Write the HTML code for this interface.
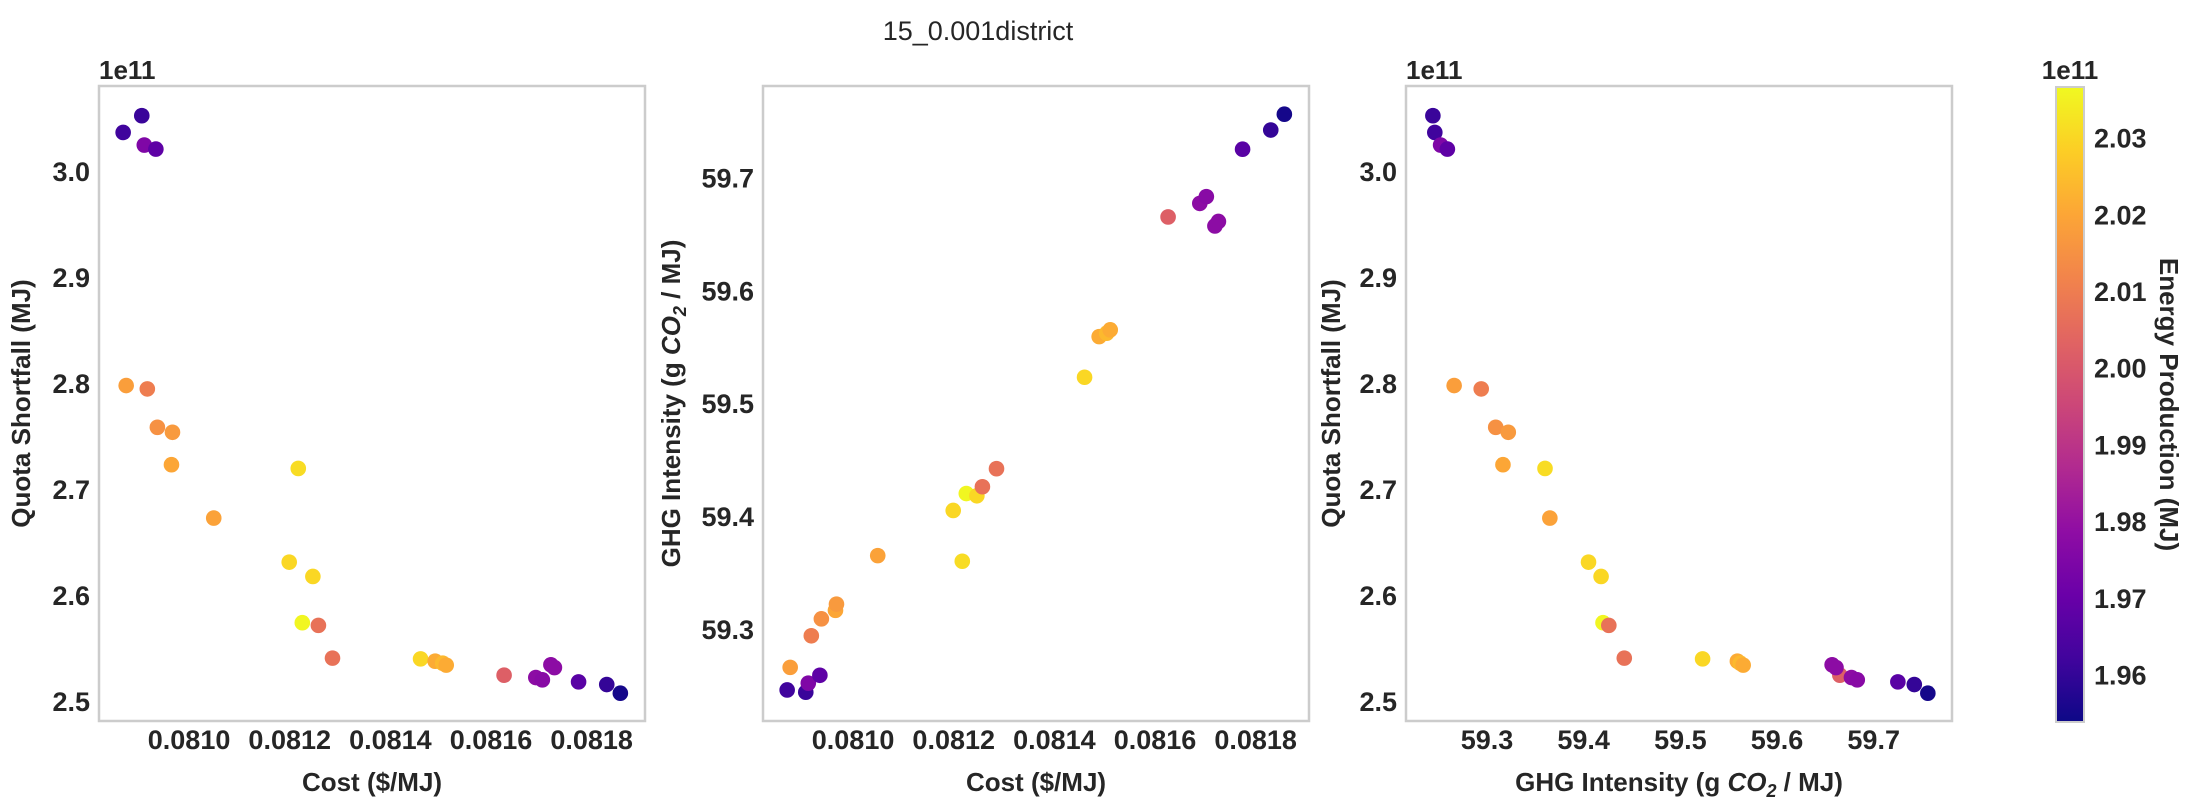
<!DOCTYPE html>
<html><head><meta charset="utf-8"><style>
html,body{margin:0;padding:0;background:#fff;}
svg{display:block;font-family:"Liberation Sans",sans-serif;}
.tk{font-size:27px;font-weight:bold;fill:#262626;}
.lab{font-size:26px;font-weight:bold;fill:#262626;}
</style></head><body>
<svg id="fig" width="2195" height="812" viewBox="0 0 2195 812">
<text x="978" y="40" text-anchor="middle" font-size="27" fill="#262626">15_0.001district</text>
</svg>
<script>
const cost=[0.080869,0.080875,0.080906,0.080911,0.080917,0.080934,0.080937,0.080965,0.080967,0.081049,0.081199,0.081217,0.081225,0.081246,0.081257,0.081285,0.081460,0.081489,0.081504,0.081511,0.081626,0.081689,0.081702,0.081719,0.081726,0.081774,0.081830,0.081857];
const ghg=[59.246,59.266,59.244,59.252,59.294,59.259,59.309,59.3165,59.322,59.365,59.405,59.360,59.420,59.418,59.426,59.442,59.523,59.559,59.562,59.565,59.665,59.677,59.683,59.657,59.661,59.725,59.742,59.756];
const quota=[3.0362,2.7975,3.0520,3.0243,2.7943,3.0205,2.7581,2.7228,2.7534,2.6725,2.6309,2.7193,2.5738,2.6174,2.5713,2.5404,2.5397,2.5375,2.5356,2.5338,2.5243,2.5221,2.5199,2.5341,2.5315,2.5180,2.5155,2.5073];
const energy=[1.962,2.018,1.961,1.975,2.010,1.968,2.015,2.020,2.017,2.019,2.030,2.031,2.036,2.030,2.007,2.007,2.030,2.021,2.024,2.021,2.002,1.978,1.977,1.978,1.978,1.967,1.960,1.955];
const costTicks=[0.0810,0.0812,0.0814,0.0816,0.0818];
const ghgTicks=[59.3,59.4,59.5,59.6,59.7];
const quotaTicks=[2.5,2.6,2.7,2.8,2.9,3.0];
const cbTicks=[1.96,1.97,1.98,1.99,2.00,2.01,2.02,2.03];

const NS="http://www.w3.org/2000/svg";
const svg=document.getElementById('fig');
const cmin=1.9538,cmax=2.0366;
const stops=["#0d0887","#41049d","#6a00a8","#8f0da4","#b12a90","#cc4778","#e16462","#f2844b","#fca636","#fcce25","#f0f921"];
function hx(h){return [parseInt(h.substr(1,2),16),parseInt(h.substr(3,2),16),parseInt(h.substr(5,2),16)];}
function plasma(t){t=Math.max(0,Math.min(1,t));const p=t*10,i=Math.min(9,Math.floor(p)),f=p-i;const a=hx(stops[i]),b=hx(stops[i+1]);return "rgb("+a.map((v,k)=>Math.round(v+(b[k]-v)*f)).join(",")+")";}
function mk(tag,attrs){const e=document.createElementNS(NS,tag);for(const k in attrs)e.setAttribute(k,attrs[k]);svg.appendChild(e);return e;}

const T=86,B=721;
const xCost=[0.080821,0.081906],xGhg=[59.2162,59.781],yQ=[2.4811,3.0800],yG=[59.2185,59.781];
const panels=[
 {L:99,xs:cost,ys:quota,xd:xCost,yd:yQ,xt:costTicks,yt:quotaTicks,xf:v=>v.toFixed(4),yf:v=>v.toFixed(1),xl:'Cost ($/MJ)',yl:'Quota Shortfall (MJ)',ylx:30,off:true,n:'cost-vs-quota'},
 {L:763,xs:cost,ys:ghg,xd:xCost,yd:yG,xt:costTicks,yt:ghgTicks,xf:v=>v.toFixed(4),yf:v=>v.toFixed(1),xl:'Cost ($/MJ)',yl:'GHG',ylx:680,off:false,n:'cost-vs-ghg'},
 {L:1406,xs:ghg,ys:quota,xd:xGhg,yd:yQ,xt:ghgTicks,yt:quotaTicks,xf:v=>v.toFixed(1),yf:v=>v.toFixed(1),xl:'GHG',yl:'Quota Shortfall (MJ)',ylx:1340,off:true,n:'ghg-vs-quota'}
];
const W=546;
function ghgLabel(el){el.innerHTML='GHG Intensity (g <tspan font-style="italic">CO</tspan><tspan font-style="italic" font-size="18" dy="6">2</tspan><tspan dy="-6"> / MJ)</tspan>';}
panels.forEach((p,pi)=>{
 const sx=v=>p.L+(v-p.xd[0])/(p.xd[1]-p.xd[0])*W;
 const sy=v=>B-(v-p.yd[0])/(p.yd[1]-p.yd[0])*(B-T);
 const fr=mk('rect',{x:p.L,y:T,width:W,height:B-T,fill:'none',stroke:'#cccccc','stroke-width':2.5});
 
 
 p.xt.forEach(v=>{const t=mk('text',{x:sx(v),y:749,'text-anchor':'middle',class:'tk'});t.textContent=p.xf(v);
  
  });
 p.yt.forEach(v=>{const t=mk('text',{x:p.L-9,y:sy(v)+10,'text-anchor':'end',class:'tk'});t.textContent=p.yf(v);
  
  });
 const xl=mk('text',{x:p.L+W/2,y:791,'text-anchor':'middle',class:'lab'});
 if(p.xl==='GHG')ghgLabel(xl);else xl.textContent=p.xl;
 
 
 const yl=mk('text',{x:0,y:0,'text-anchor':'middle',class:'lab',transform:'translate('+p.ylx+','+((T+B)/2)+') rotate(-90)'});
 if(p.yl==='GHG')ghgLabel(yl);else yl.textContent=p.yl;
 
 
 if(p.off){const o=mk('text',{x:p.L,y:79,class:'lab'});o.textContent='1e11';
  
  }
 p.xs.forEach((xv,i)=>{const c=mk('circle',{cx:sx(xv),cy:sy(p.ys[i]),r:7.8,fill:plasma((energy[i]-cmin)/(cmax-cmin))});
  
  });
});
// colorbar
const cbL=2056,cbW=28,cbT=87,cbB=722;
const defs=mk('defs',{});
const g=document.createElementNS(NS,'linearGradient');g.setAttribute('id','pl');g.setAttribute('x1','0');g.setAttribute('y1','1');g.setAttribute('x2','0');g.setAttribute('y2','0');
stops.forEach((s,i)=>{const st=document.createElementNS(NS,'stop');st.setAttribute('offset',i/10);st.setAttribute('stop-color',s);g.appendChild(st);});
defs.appendChild(g);
const cb=mk('rect',{x:cbL,y:cbT,width:cbW,height:cbB-cbT,fill:'url(#pl)',stroke:'#cccccc','stroke-width':2});


const cy=v=>cbB-(v-cmin)/(cmax-cmin)*(cbB-cbT);
cbTicks.forEach(v=>{const t=mk('text',{x:cbL+cbW+10,y:cy(v)+10,class:'tk'});t.textContent=v.toFixed(2);
 
 });
const co=mk('text',{x:cbL+14,y:79,'text-anchor':'middle',class:'lab'});co.textContent='1e11';


const cl=mk('text',{x:0,y:0,'text-anchor':'middle',class:'lab',transform:'translate(2160,'+((cbT+cbB)/2)+') rotate(90)'});cl.textContent='Energy Production (MJ)';


</script>
</body></html>
